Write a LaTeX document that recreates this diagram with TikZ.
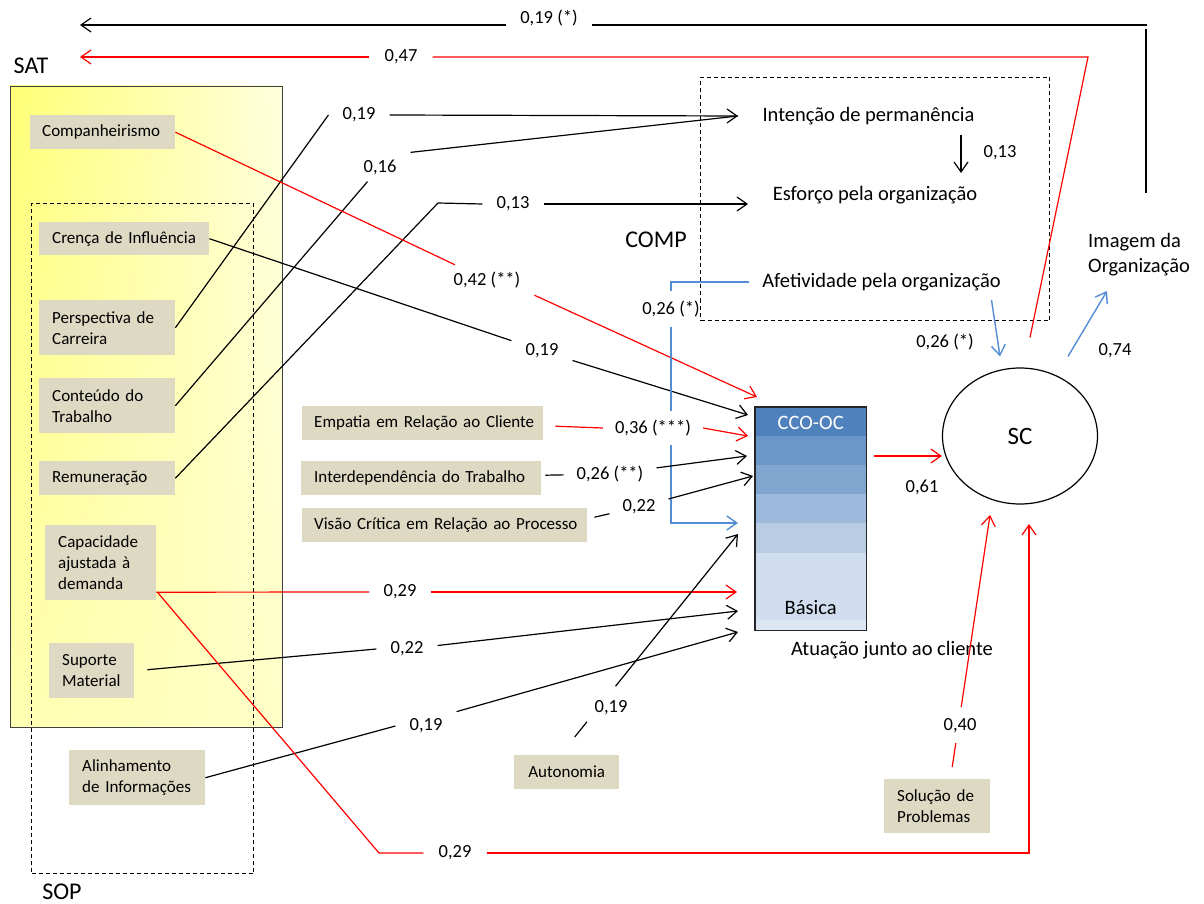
\documentclass[tikz,border=0pt]{standalone}
\usepackage{fontspec}
\setmainfont{Carlito}
\usetikzlibrary{arrows.meta,calc,shapes.geometric,shadings}
\definecolor{boxc}{RGB}{221,217,195}
\definecolor{redl}{RGB}{255,0,0}
\definecolor{bluel}{RGB}{84,141,212}
\definecolor{yUL}{RGB}{255,255,118}
\definecolor{yUR}{RGB}{255,255,222}
\definecolor{yLL}{RGB}{255,255,178}
\definecolor{yLR}{RGB}{255,255,200}
\definecolor{bA}{RGB}{79,129,189}
\definecolor{bB}{RGB}{106,150,200}
\definecolor{bC}{RGB}{128,166,207}
\definecolor{bD}{RGB}{157,185,219}
\definecolor{bE}{RGB}{184,204,228}
\definecolor{bF}{RGB}{207,221,238}
\definecolor{bG}{RGB}{220,230,242}
\begin{document}
\begin{tikzpicture}[x=1pt,y=-1pt,
  ln/.style={line width=1.2pt,draw=black},
  rl/.style={line width=1.2pt,draw=redl},
  bl/.style={line width=1.4pt,draw=bluel},
  arr/.style={-{Straight Barb[length=10pt,width=14pt]}},
  lab/.style={font=\fontsize{18.5}{22}\selectfont,inner xsep=14pt,inner ysep=7pt},
  lbox/.style={fill=boxc,font=\fontsize{17}{21}\selectfont,inner xsep=13pt,inner ysep=0pt,anchor=north west,align=left},
  ttl/.style={font=\fontsize{20.5}{25}\selectfont,inner sep=0pt},
  big/.style={font=\fontsize{24}{28}\selectfont,inner sep=0pt},
  dbox/.style={draw=black,line width=1pt,dash pattern=on 4pt off 3pt,inner sep=0pt,anchor=north west}
]
\useasboundingbox (0,0) rectangle (1204,904);
\fill[white] (0,0) rectangle (1204,904);

% group boxes
\shade[upper left=yUL,upper right=yUR,lower left=yLL,lower right=yLR] (10,86) rectangle (282,727);
\node[anchor=north west,inner sep=0pt,minimum width=272pt,minimum height=641pt,
      draw=black!75,line width=1.3pt] (sat) at (10,86) {};
\node[dbox,minimum width=222pt,minimum height=670pt] (sop) at (31,203) {};
\node[dbox,minimum width=349pt,minimum height=243pt] (comp) at (700,77) {};
\node[big] (satl) at (31,66) {SAT};
\node[big] (sopl) at (62,892) {SOP};
\node[big] (compl) at (656,240) {COMP};

% variable boxes
\node[lbox,inner xsep=12pt,text width=121pt,minimum height=34pt] (compan) at (30,115) {Companheirismo};
\node[lbox,text width=144pt,minimum height=33pt] (crenca) at (39,222) {Crença de Influência};
\node[lbox,text width=110pt,minimum height=55pt] (persp) at (39,300) {\mbox{Perspectiva de}\\Carreira};
\node[lbox,text width=110pt,minimum height=55pt] (cont) at (39,378) {\mbox{Conteúdo do}\\Trabalho};
\node[lbox,text width=110pt,minimum height=34pt] (remun) at (39,461) {Remuneração};
\node[lbox,text width=85pt,minimum height=75pt] (capac) at (45,525) {Capacidade\\ajustada à\\demanda};
\node[lbox,text width=59pt,minimum height=55pt] (suporte) at (49,643) {Suporte\\Material};
\node[lbox,text width=110pt,minimum height=55pt] (alinh) at (69,750) {Alinhamento\\\mbox{de Informações}};
\node[lbox,inner xsep=12pt,text width=217pt,minimum height=34pt] (empat) at (302,406) {\mbox{Empatia em Relação ao Cliente}};
\node[lbox,text width=214pt,minimum height=34pt] (interd) at (301,461) {\mbox{Interdependência do Trabalho}};
\node[lbox,inner xsep=12pt,text width=261pt,minimum height=34pt] (visao) at (302,508) {\mbox{Visão Crítica em Relação ao Processo}};
\node[lbox,align=center,text width=79pt,minimum height=34pt] (auton) at (514,755) {Autonomia};
\node[lbox,text width=80pt,minimum height=54pt] (soluc) at (884,779) {\mbox{Solução de}\\Problemas};

% COMP texts
\node[ttl] (int) at (868.5,116) {Intenção de permanência};
\node[ttl] (esf) at (875,195) {Esforço pela organização};
\node[ttl] (afet) at (881.5,282) {Afetividade pela organização};
\node[ttl,anchor=north west,align=left] (img) at (1088,233) {Imagem da\\Organização};

% CCO-OC bar
\path node[anchor=north west,inner sep=0pt,minimum width=111pt,minimum height=223pt] (bar) at (755,407) {};
\fill[bA] (bar.north west) rectangle ($(bar.north east)+(0,29)$);
\fill[bB] ($(bar.north west)+(0,29)$) rectangle ($(bar.north east)+(0,58)$);
\fill[bC] ($(bar.north west)+(0,58)$) rectangle ($(bar.north east)+(0,87)$);
\fill[bD] ($(bar.north west)+(0,87)$) rectangle ($(bar.north east)+(0,116)$);
\fill[bE] ($(bar.north west)+(0,116)$) rectangle ($(bar.north east)+(0,146)$);
\fill[bF] ($(bar.north west)+(0,146)$) rectangle ($(bar.north east)+(0,213)$);
\fill[bG] ($(bar.north west)+(0,213)$) rectangle (bar.south east);
\draw[line width=1.1pt,draw=black!85] (bar.north west) rectangle (bar.south east);
\node[ttl,text=white] (cco) at ($(bar.north)+(0,16)$) {CCO-OC};
\node[ttl] (basica) at ($(bar.south)+(0,-23)$) {Básica};
\node[ttl] (atua) at (892,650) {Atuação junto ao cliente};

% SC
\node[draw,ellipse,line width=1.2pt,minimum width=155pt,minimum height=136pt,inner sep=0pt,
      font=\fontsize{25}{30}\selectfont] (sc) at (1020,436) {SC};

% coefficient labels
\node[lab] (L1) at (549,18) {0,19 (*)};
\node[lab,inner xsep=15pt] (L2) at (401,57) {0,47};
\node[lab] (L3) at (359,115) {0,19};
\node[lab] (L4) at (380,167) {0,16};
\node[lab] (L5) at (513,204) {0,13};
\node[lab] (L6) at (487,280) {0,42 (**)};
\node[lab] (L7) at (542,351) {0,19};
\node[lab,inner ysep=10pt,inner xsep=4pt] (L8) at (671,309) {0,26 (*)};
\node[lab,inner xsep=12pt,inner ysep=9pt] (L9) at (653,428) {0,36 (***)};
\node[lab,inner xsep=13pt] (L10) at (610,474) {0,26 (**)};
\node[lab,inner xsep=13pt] (L11) at (639,507) {0,22};
\node[lab] (L12) at (400,592) {0,29};
\node[lab] (L13) at (407,649) {0,22};
\node[lab] (L14) at (426,726) {0,19};
\node[lab] (L15) at (611,708) {0,19};
\node[lab,inner xsep=15pt] (L16) at (455,853) {0,29};
\node[lab] (L17) at (960,726) {0,40};
\node[lab] (L18) at (922,487) {0,61};
\node[lab] (L19) at (945,342) {0,26 (*)};
\node[lab] (L20) at (1115,351) {0,74};
\node[lab] (L21) at (1000,153) {0,13};

% free ends
\coordinate (imgTop) at (1146,193);
\coordinate (cT1) at (1146,29);
\coordinate (cT2) at (1147,25);
\coordinate (satTip1) at (80,25);
\coordinate (rC) at (1088,57);
\coordinate (satTip2) at (80,57);
\coordinate (tInt) at (738,116);
\coordinate (bend13) at (438,203);
\coordinate (tEsf) at (748,204);
\coordinate (t42) at (757,397);
\coordinate (t19c) at (748,415);
\coordinate (tBl) at (738,523);
\coordinate (t36) at (748,436);
\coordinate (t26) at (747,456);
\coordinate (t22) at (753,476);
\coordinate (t29) at (737,592);
\coordinate (t22b) at (738,611);
\coordinate (t19a) at (738,632);
\coordinate (t19b) at (738,534);
\coordinate (s15) at ($(auton.north)+(8,-18)$);
\coordinate (b29) at (379,853);
\coordinate (c29) at (1029,853);
\coordinate (t29b) at (1029,524);
\coordinate (s40) at ($(soluc.north)+(15,-12)$);
\coordinate (t40) at (990,515);
\coordinate (tImg) at (1107,291);

% connectors
\draw[ln] (imgTop) -- (cT1);
\draw[ln] (cT2) -- (L1.east |- cT2);
\draw[ln,arr] (L1.west |- cT2) -- (satTip1);

\draw[rl] ($(sc.north)+(10,-30)$) -- (rC) -- (L2.east);
\draw[rl,arr] (L2.west) -- (satTip2);

\draw[ln] (persp.east) -- (L3.west);
\draw[ln,arr] (L3.east) -- (tInt);
\draw[ln] (cont.east) -- (L4);
\draw[ln] (L4.north east) -- (tInt);
\draw[ln] (remun.east) -- (bend13) -- (L5.west);
\draw[ln,arr] (L5.east) -- (tEsf);
\draw[ln,arr] ($(int.center)+(92.5,19)$) -- ($(esf.center)+(86,-22)$);

\draw[rl] (compan.east) -- (L6);
\draw[rl,arr] (L6.south east) -- (t42);
\draw[ln] (crenca.east) -- (L7);
\draw[ln,arr] (L7) -- (t19c);

\draw[bl] ($(afet.west)+(-13,0)$) -| (L8.north);
\draw[bl] (L8.south) -- (L8.south |- L9.north);
\draw[bl,arr] (L8.south |- L9.south) |- (tBl);

\draw[rl] ($(empat.east)+(12,3)$) -- (L9.west);
\draw[rl,arr] (L9.east) -- (t36);
\draw[ln] ($(interd.east)+(4,-3)$) -- (L10);
\draw[ln,arr] (L10) -- (t26);
\draw[ln] ($(visao.east)+(7,-8)$) -- (L11);
\draw[ln,arr] (L11) -- (t22);

\draw[rl] ($(capac.east)+(0,29.5)$) -- (L12.west);
\draw[rl,arr] (L12.east) -- (t29);
\draw[ln] ($(suporte.east)+(13,-1)$) -- (L13.west);
\draw[ln,arr] (L13) -- (t22b);
\draw[ln] (alinh.east) -- (L14.west);
\draw[ln,arr] (L14.north east) -- (t19a);
\draw[ln] (s15) -- ($(s15)!0.075!(t19b)$);
\draw[ln,arr] ($(s15)!0.25!(t19b)$) -- (t19b);

\draw[rl] ($(capac.east)+(1,29.5)$) -- (b29) -- (L16.west);
\draw[rl,arr] (L16.east) -- (c29) -- (t29b);
\draw[rl] (s40) -- ($(s40)!0.095!(t40)$);
\draw[rl,arr] ($(s40)!0.238!(t40)$) -- (t40);

\draw[rl,arr] ($(bar.north east)+(8,49)$) -- ($(sc.west)+(0,20)$);
\draw[bl,arr] ($(afet.center)+(110,18)$) -- ($(sc.north)+(-20,-11)$);
\draw[bl,arr] ($(sc.north)+(48,-11)$) -- (tImg);
\end{tikzpicture}
\end{document}
